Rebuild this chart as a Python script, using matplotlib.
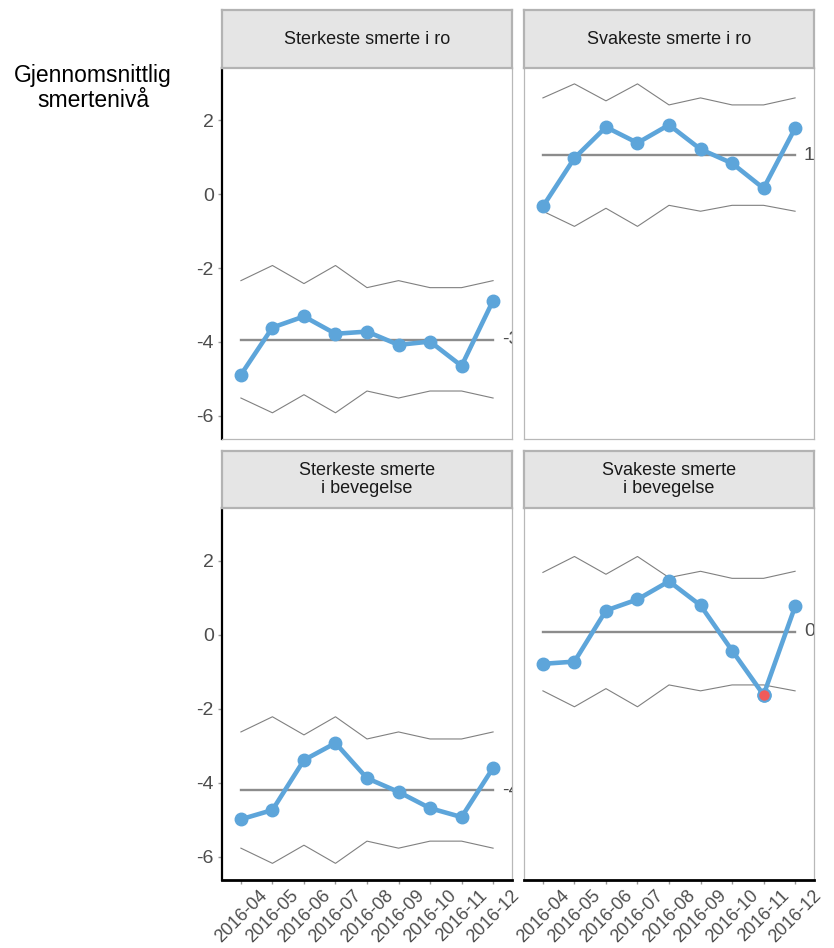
import matplotlib
matplotlib.use("Agg")
import matplotlib.pyplot as plt
import numpy as np

plt.rcParams['font.family'] = ['Liberation Sans', 'DejaVu Sans']

months = ["2016-04", "2016-05", "2016-06", "2016-07", "2016-08",
          "2016-09", "2016-10", "2016-11", "2016-12"]

titles = ["Sterkeste smerte i ro", "Svakeste smerte i ro",
          "Sterkeste smerte\ni bevegelse", "Svakeste smerte\ni bevegelse"]

# monthly average pain level per measure
sterk_ro = [-4.89, -3.61, -3.31, -3.78, -3.72, -4.08, -3.99, -4.65, -2.88]
svak_ro = [-0.33, 0.98, 1.82, 1.39, 1.88, 1.22, 0.84, 0.16, 1.79]
sterk_bev = [-4.99, -4.74, -3.39, -2.93, -3.88, -4.25, -4.69, -4.93, -3.60]
svak_bev = [-0.79, -0.73, 0.65, 0.95, 1.44, 0.79, -0.43, -1.63, 0.76]

# centre line per measure
means = [-3.94, 1.06, -4.20, 0.08]
mean_labels = ["-3.9", "1.1", "-4.2", "0.1"]

# control limits per measure
upper_sterk_ro = [-2.34, -1.93, -2.42, -1.93, -2.53, -2.34, -2.53, -2.53, -2.34]
lower_sterk_ro = [-5.52, -5.92, -5.43, -5.92, -5.33, -5.52, -5.33, -5.33, -5.52]
upper_svak_ro = [2.61, 2.99, 2.53, 2.99, 2.42, 2.61, 2.42, 2.42, 2.61]
lower_svak_ro = [-0.46, -0.87, -0.38, -0.87, -0.30, -0.46, -0.30, -0.30, -0.46]
upper_sterk_bev = [-2.63, -2.22, -2.71, -2.22, -2.82, -2.63, -2.82, -2.82, -2.63]
lower_sterk_bev = [-5.77, -6.18, -5.69, -6.18, -5.58, -5.77, -5.58, -5.58, -5.77]
upper_svak_bev = [1.68, 2.11, 1.63, 2.11, 1.54, 1.71, 1.52, 1.52, 1.71]
lower_svak_bev = [-1.52, -1.95, -1.46, -1.95, -1.36, -1.52, -1.36, -1.36, -1.52]

series = [sterk_ro, svak_ro, sterk_bev, svak_bev]
uppers = [upper_sterk_ro, upper_svak_ro, upper_sterk_bev, upper_svak_bev]
lowers = [lower_sterk_ro, lower_svak_ro, lower_sterk_bev, lower_svak_bev]

yticks = [2, 0, -2, -4, -6]

W, H = 834, 948
fig = plt.figure(figsize=(W / 100, H / 100), dpi=100)

col_x = [222, 524]
panel_w = 290
rows = [(10, 68, 439), (451, 508, 880)]  # strip top, panel top, panel bottom

blue = "#5DA5DA"
red = "#F15A5A"
grey_border = "#b8b8b8"
tick_grey = "#4d4d4d"

x = np.arange(len(months))

for i in range(4):
    r, c = divmod(i, 2)
    s_top, p_top, p_bot = rows[r]
    left = col_x[c]
    ax = fig.add_axes([left / W, 1 - p_bot / H, panel_w / W, (p_bot - p_top) / H])
    sax = fig.add_axes([left / W, 1 - p_top / H, panel_w / W, (p_top - s_top) / H])

    # strip
    sax.set_facecolor("#e5e5e5")
    sax.set_xticks([])
    sax.set_yticks([])
    for sp in sax.spines.values():
        sp.set_color("#b3b3b3")
        sp.set_linewidth(1.6)
    sax.text(0.5, 0.5, titles[i], ha="center", va="center", fontsize=13,
             color="#1a1a1a", transform=sax.transAxes, linespacing=1.15)

    vals = np.array(series[i])
    up = np.array(uppers[i])
    lo = np.array(lowers[i])

    ax.plot(x, up, color="#808080", lw=0.8, zorder=2)
    ax.plot(x, lo, color="#808080", lw=0.8, zorder=2)
    ax.plot([x[0], x[-1]], [means[i], means[i]], color="#8c8c8c", lw=1.7, zorder=2)
    ax.text(8.28, means[i], mean_labels[i], ha="left", va="center",
            fontsize=14, color=tick_grey, clip_on=True)

    ax.plot(x, vals, color=blue, lw=3.3, zorder=3, solid_capstyle="round")
    ax.plot(x, vals, "o", color=blue, ms=9, zorder=4)
    out = (vals > up) | (vals < lo)
    ax.plot(x[out], vals[out], "o", color=red, mec=blue, mew=1.5, ms=9, zorder=5)

    ax.set_xlim(-0.6, 8.6)
    ax.set_ylim(-6.63, 3.42)

    for sp in ax.spines.values():
        sp.set_color(grey_border)
        sp.set_linewidth(0.9)
    ax.spines["top"].set_visible(False)

    if c == 0:
        ax.spines["left"].set_color("black")
        ax.spines["left"].set_linewidth(1.6)
        ax.set_yticks(yticks)
        ax.set_yticklabels([str(v) for v in yticks])
        ax.tick_params(axis="y", length=3, width=1, color="#999999",
                       labelsize=14, labelcolor=tick_grey, pad=3)
    else:
        ax.set_yticks([])

    if r == 1:
        ax.spines["bottom"].set_color("black")
        ax.spines["bottom"].set_linewidth(2.0)
        ax.set_xticks(x)
        ax.set_xticklabels(months, rotation=45, ha="center", va="top")
        ax.tick_params(axis="x", length=3, width=1, color="#999999",
                       labelsize=13, labelcolor=tick_grey, pad=2)
    else:
        ax.set_xticks([])

fig.text(93 / W, 1 - 88 / H, "Gjennomsnittlig\nsmertenivå", ha="center",
         va="center", fontsize=16.5, color="black", linespacing=1.15)

fig.savefig("out.png", dpi=100)
